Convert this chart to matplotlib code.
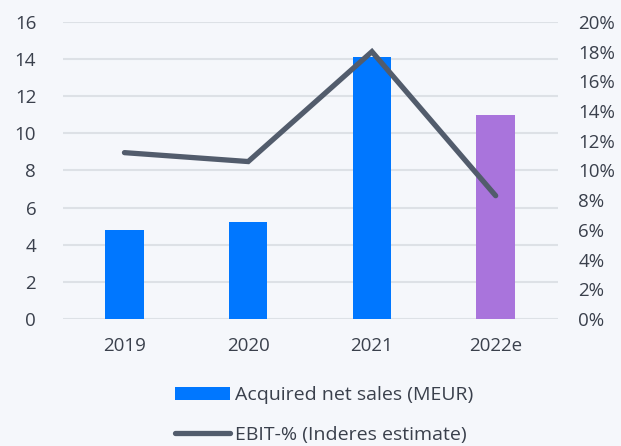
import numpy as np
import matplotlib.pyplot as plt
from matplotlib.ticker import FuncFormatter

# data
years = ['2019', '2020', '2021', '2022e']
net_sales = [4.8, 5.2, 14.1, 11.0]        # MEUR
ebit_pct = [11.2, 10.6, 18.0, 8.3]        # %
bar_colors = ['#0077ff', '#0077ff', '#0077ff', '#a974dc']

bg = '#f5f7fb'
txt = '#3a404c'
plt.rcParams['font.family'] = ['Open Sans', 'DejaVu Sans']

fig = plt.figure(figsize=(6.21, 4.46), dpi=100, facecolor=bg)
ax = fig.add_axes([0.1008, 0.2848, 0.797, 0.666])
ax.set_facecolor(bg)

x = np.arange(len(years))
bars = ax.bar(x, net_sales, width=0.31, color=bar_colors, zorder=2,
              label='Acquired net sales (MEUR)')
ax.set_xlim(-0.5, 3.5)
ax.set_ylim(0, 16)
ax.set_yticks(np.arange(0, 17, 2))
ax.set_xticks(x)
ax.set_xticklabels(years)
ax.grid(axis='y', color='#dde1e6', linewidth=1.5, zorder=0)
ax.set_axisbelow(True)
for s in ax.spines.values():
    s.set_visible(False)
ax.tick_params(axis='both', length=0, labelsize=13.5, colors=txt)
ax.tick_params(axis='y', pad=19)
ax.tick_params(axis='x', pad=13)

ax2 = ax.twinx()
ax2.plot(x, ebit_pct, color='#525c6c', linewidth=3.8, solid_capstyle='round',
         solid_joinstyle='miter', label='EBIT-% (Inderes estimate)', zorder=3)
ax2.set_ylim(0, 20)
ax2.set_yticks(np.arange(0, 21, 2))
ax2.yaxis.set_major_formatter(FuncFormatter(lambda v, p: f'{v:.0f}%'))
for s in ax2.spines.values():
    s.set_visible(False)
ax2.tick_params(axis='y', length=0, labelsize=13.5, colors=txt, pad=15)

h1, l1 = ax.get_legend_handles_labels()
h2, l2 = ax2.get_legend_handles_labels()
leg = fig.legend(h1 + h2, l1 + l2, loc='upper center', bbox_to_anchor=(0.522, 0.156),
                 ncol=1, frameon=False, fontsize=14, handlelength=2.8, handleheight=0.7,
                 handletextpad=0.25, labelspacing=1.1, borderpad=0)
for t in leg.get_texts():
    t.set_color(txt)

fig.savefig('out.png', dpi=100, facecolor=bg)
